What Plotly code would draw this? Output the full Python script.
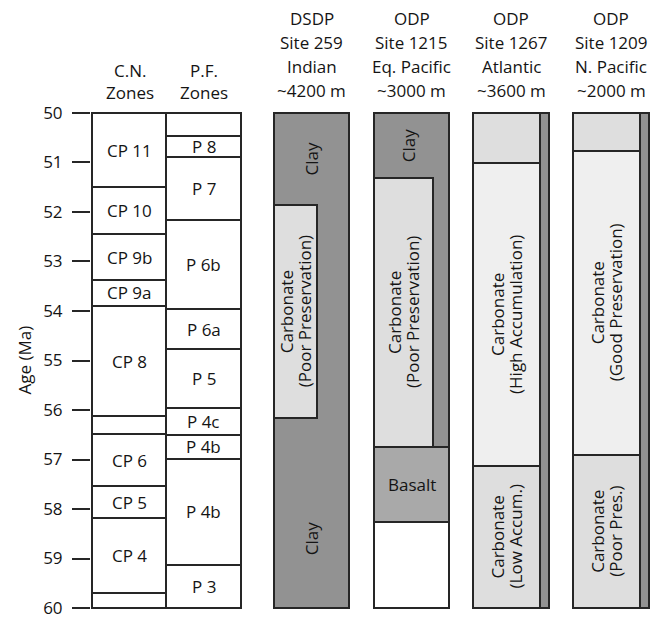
import plotly.graph_objects as go

# ---------------- zonation boundaries (Ma) ----------------
cn_bounds = [50.0, 51.5, 52.45, 53.37, 53.9, 56.13, 56.49, 57.54, 58.19, 59.69, 60.0]
cn_labels = ["CP 11", "CP 10", "CP 9b", "CP 9a", "CP 8", "", "CP 6", "CP 5", "CP 4", ""]

pf_bounds = [50.0, 50.46, 50.89, 52.16, 53.96, 54.77, 55.96, 56.5, 56.99, 59.13, 60.0]
pf_labels = ["", "P 8", "P 7", "P 6b", "P 6a", "P 5", "P 4c", "P 4b", "P 4b", "P 3"]

# ---------------- site lithologies (top, bottom in Ma) ----------------
s259_clay = (50.0, 60.0)
s259_carb = (51.86, 56.17)

s1215_clay = (50.0, 56.74)
s1215_carb = (51.32, 56.74)
s1215_basalt = (56.74, 58.27)
s1215_below = (58.27, 60.0)

s1267_bounds = [50.0, 51.01, 57.13, 60.0]
s1209_bounds = [50.0, 50.77, 56.9, 60.0]

# label ages for lithology text
s259_clay_label_ages = [50.93, 58.6]
s1215_clay_label_age = 50.66

age_ticks = list(range(50, 61))

site_headers = [
    ["DSDP", "Site 259", "Indian", "~4200 m"],
    ["ODP", "Site 1215", "Eq. Pacific", "~3000 m"],
    ["ODP", "Site 1267", "Atlantic", "~3600 m"],
    ["ODP", "Site 1209", "N. Pacific", "~2000 m"],
]

# ---------------- styling / layout ----------------
FONT = "Open Sans"
TXT = "#141414"
EDGE = "#262626"
CLAY = "#929292"
BASALT = "#a9a9a9"
CARB_LIGHT = "#dedede"
CARB_PALE = "#efefef"
WHITE = "#ffffff"

# column extents along the horizontal axis
COL = {
    "cn": (92, 166),
    "pf": (166, 241),
    "s259": (274, 349),
    "s1215": (374, 449),
    "s1267": (473, 549),
    "s1209": (573, 649),
}
INNER_259 = 317
INNER_1215 = 433
STRIP_1267 = 540
STRIP_1209 = 640

fig = go.Figure()


def add_boxes(x0, x1, tops, bottoms, colors):
    fig.add_trace(go.Bar(
        x=[(x0 + x1) / 2] * len(tops),
        width=[x1 - x0] * len(tops),
        base=tops,
        y=[b - t for t, b in zip(tops, bottoms)],
        marker=dict(color=colors, line=dict(color=EDGE, width=2)),
        hoverinfo="skip",
        showlegend=False,
    ))


def pairs(bounds):
    return bounds[:-1], bounds[1:]


# zone columns
t, b = pairs(cn_bounds)
add_boxes(*COL["cn"], t, b, [WHITE] * len(t))
t, b = pairs(pf_bounds)
add_boxes(*COL["pf"], t, b, [WHITE] * len(t))

# DSDP 259
add_boxes(*COL["s259"], [s259_clay[0]], [s259_clay[1]], [CLAY])
add_boxes(COL["s259"][0], INNER_259, [s259_carb[0]], [s259_carb[1]], [CARB_LIGHT])

# ODP 1215
add_boxes(*COL["s1215"], [s1215_clay[0], s1215_basalt[0], s1215_below[0]],
          [s1215_clay[1], s1215_basalt[1], s1215_below[1]], [CLAY, BASALT, WHITE])
add_boxes(COL["s1215"][0], INNER_1215, [s1215_carb[0]], [s1215_carb[1]], [CARB_LIGHT])

# ODP 1267
t, b = pairs(s1267_bounds)
add_boxes(COL["s1267"][0], STRIP_1267, t, b, [CARB_LIGHT, CARB_PALE, CARB_LIGHT])
add_boxes(STRIP_1267, COL["s1267"][1], [s1267_bounds[0]], [s1267_bounds[-1]], [CLAY])

# ODP 1209
t, b = pairs(s1209_bounds)
add_boxes(COL["s1209"][0], STRIP_1209, t, b, [CARB_LIGHT, CARB_PALE, CARB_LIGHT])
add_boxes(STRIP_1209, COL["s1209"][1], [s1209_bounds[0]], [s1209_bounds[-1]], [CLAY])

ann = []


def label(x, y, text, angle=0, xshift=0):
    ann.append(dict(x=x, y=y, xref="x", yref="y", text=text, showarrow=False,
                    textangle=angle, xanchor="center", yanchor="middle",
                    xshift=xshift, font=dict(family=FONT, size=17, color=TXT)))


def mid(a, b):
    return (a + b) / 2


# zone labels
for lab, t0, t1 in zip(cn_labels, cn_bounds[:-1], cn_bounds[1:]):
    if lab:
        label(mid(*COL["cn"]), mid(t0, t1), lab)
for lab, t0, t1 in zip(pf_labels, pf_bounds[:-1], pf_bounds[1:]):
    if lab:
        label(mid(*COL["pf"]), mid(t0, t1), lab)


def two_line(x, y, l1, l2):
    label(x, y, l1, -90, -9)
    label(x, y, l2, -90, 9)


# DSDP 259 text
for a in s259_clay_label_ages:
    label(mid(*COL["s259"]), a, "Clay", -90)
two_line(mid(COL["s259"][0], INNER_259), mid(*s259_carb), "Carbonate", "(Poor Preservation)")

# ODP 1215 text
label(mid(*COL["s1215"]) - 3, s1215_clay_label_age, "Clay", -90)
two_line(mid(COL["s1215"][0], INNER_1215), mid(*s1215_carb), "Carbonate", "(Poor Preservation)")
label(mid(*COL["s1215"]), mid(*s1215_basalt), "Basalt")

# ODP 1267 text
two_line(mid(COL["s1267"][0], STRIP_1267), mid(s1267_bounds[1], s1267_bounds[2]),
         "Carbonate", "(High Accumulation)")
two_line(mid(COL["s1267"][0], STRIP_1267), mid(s1267_bounds[2], s1267_bounds[3]),
         "Carbonate", "(Low Accum.)")

# ODP 1209 text
two_line(mid(COL["s1209"][0], STRIP_1209), mid(s1209_bounds[1], s1209_bounds[2]),
         "Carbonate", "(Good Preservation)")
two_line(mid(COL["s1209"][0], STRIP_1209), mid(s1209_bounds[2], s1209_bounds[3]),
         "Carbonate", "(Poor Pres.)")

PLOT_TOP = 111  # pixel row of the top of the plotting area
PLOT_BOTTOM_PAD = 8


def header(xc, lines, rows):
    for txt, row in zip(lines, rows):
        ann.append(dict(x=xc, y=1, xref="x", yref="paper", text=txt, showarrow=False,
                        xanchor="center", yanchor="middle", yshift=PLOT_TOP - row,
                        font=dict(family=FONT, size=17, color=TXT)))


header(mid(*COL["cn"]) + 1, ["C.N.", "Zones"], [70, 92])
header(mid(*COL["pf"]), ["P.F.", "Zones"], [70, 92])
for key, lines in zip(["s259", "s1215", "s1267", "s1209"], site_headers):
    header(mid(*COL[key]), lines, [18, 42, 66, 90])

# axis title
ann.append(dict(x=0, y=55, xref="paper", yref="y", text="Age (Ma)", showarrow=False,
                textangle=-90, xanchor="center", yanchor="middle", xshift=-67,
                font=dict(family=FONT, size=17, color=TXT)))

fig.update_layout(
    width=664, height=618,
    margin=dict(l=91, r=12, t=PLOT_TOP, b=PLOT_BOTTOM_PAD, pad=0, autoexpand=False),
    paper_bgcolor="white", plot_bgcolor="white",
    barmode="overlay", bargap=0,
    annotations=ann,
    font=dict(family=FONT, size=17, color=TXT),
    xaxis=dict(range=[91, 652], visible=False, fixedrange=True, automargin=False),
    yaxis=dict(range=[60.04, 49.96], tickvals=age_ticks, ticks="outside", ticklen=18,
               tickwidth=2, tickcolor=EDGE, showgrid=False, zeroline=False,
               showline=False, ticklabelstandoff=6, ticklabeloverflow="allow",
               automargin=False,
               tickfont=dict(family=FONT, size=17, color=TXT), fixedrange=True),
)

fig.write_html("out.html")
